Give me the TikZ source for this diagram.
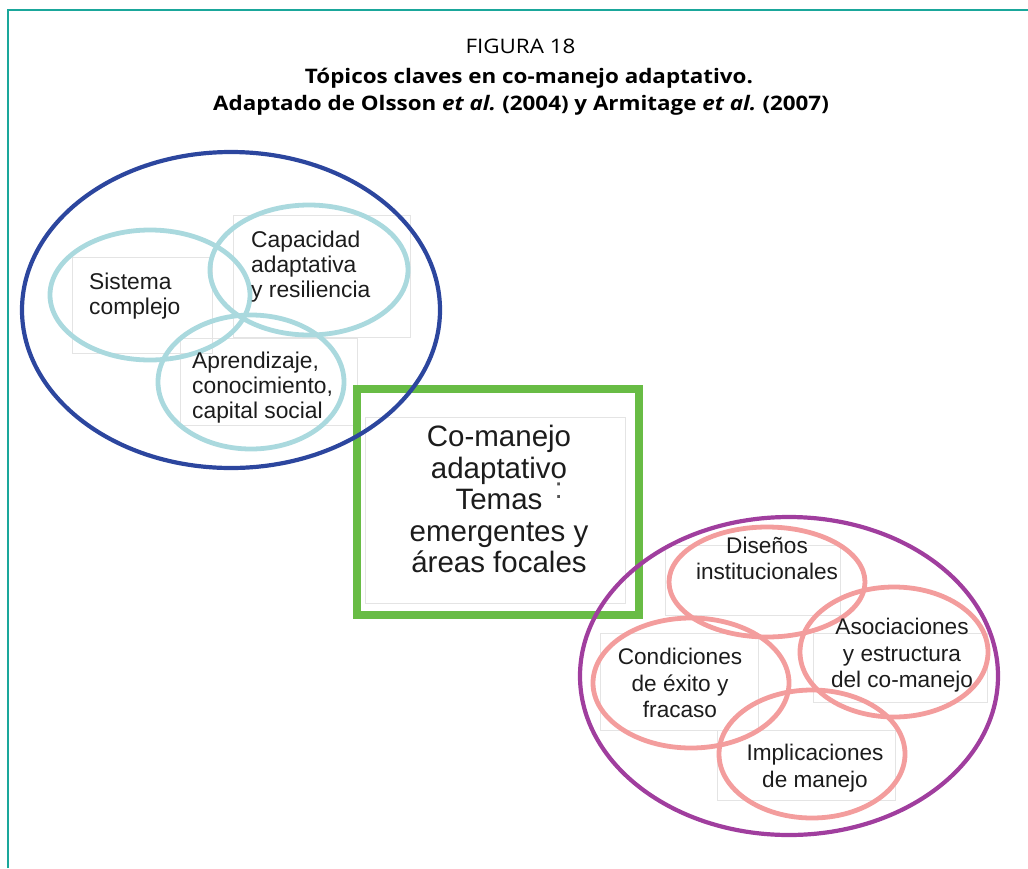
\documentclass[tikz,border=0pt]{standalone}
\usepackage{fontspec}
\setmainfont{Liberation Sans}
\newfontfamily\titlefont[FakeStretch=1.12]{Open Sans}

\definecolor{frameteal}{HTML}{1AA79B}
\definecolor{ringblue}{HTML}{2C469E}
\definecolor{ringpurple}{HTML}{A03E9E}
\definecolor{paleteal}{HTML}{AAD9DE}
\definecolor{salmon}{HTML}{F39D9D}
\definecolor{boxgreen}{HTML}{68BC45}
\definecolor{ghost}{HTML}{E4E4E4}
\definecolor{ink}{HTML}{1C1C1C}

\begin{document}
\begin{tikzpicture}[x=1pt,y=-1pt,
  outerring/.style={line width=4.2pt},
  topicring/.style={line width=4.8pt},
  ghostbox/.style={draw=ghost, line width=0.6pt},
  topic/.style={font=\fontsize{22.6}{26.5}\selectfont, text=ink, inner sep=0pt},
  leftlbl/.style={topic, align=left, anchor=west, font=\fontsize{22.8}{25}\selectfont},
  rightlbl/.style={topic, align=center, anchor=center},
  title/.style={inner sep=0pt, anchor=base, text=black}
]
\useasboundingbox (0,0) rectangle (1028,868);

% page frame (top and left rules)
\draw[frameteal, line width=1.6pt] (8,868) -- (8,10) -- (1028,10);

% heading
\node[title, font=\titlefont\fontsize{20}{24}\selectfont] (fig) at (520.5,53) {FIGURA 18};
\node[title, font=\titlefont\bfseries\fontsize{20}{24}\selectfont] (tit1) at (529,83)
  {Tópicos claves en co-manejo adaptativo.};
\node[title, font=\titlefont\bfseries\fontsize{20}{24}\selectfont] (tit2) at (521,110)
  {Adaptado de Olsson {\itshape et al.}\kern-1.5pt{} (2004) y Armitage {\itshape et al.}\kern-1.5pt{} (2007)};

% faint text frames behind the labels
\draw[ghostbox] (72,257) rectangle (212,353);
\draw[ghostbox] (233,215) rectangle (410,337);
\draw[ghostbox] (180,338) rectangle (357,425);
\draw[ghostbox] (365,417) rectangle (625,603);
\draw[ghostbox] (665,545) rectangle (840,615);
\draw[ghostbox] (813,633) rectangle (987,702);
\draw[ghostbox] (600,633) rectangle (758,730);
\draw[ghostbox] (717,730) rectangle (895,800);

% central box
\draw[boxgreen, line width=8pt] (357,389) rectangle (639,615);
\node[topic, align=center, font=\fontsize{29.5}{31.5}\selectfont] (core) at (499,499)
  {Co-manejo\\adaptativo\rlap{\hspace{-0.42em}\smash{\raisebox{-0.7em}{\color{ink!75}:}}}\\Temas\\emergentes y\\áreas focales};

% left cluster
\draw[ringblue, outerring] (231,310) ellipse [x radius=209pt, y radius=158pt];
\draw[paleteal, topicring] (150,295) ellipse [x radius=100pt, y radius=65pt];
\draw[paleteal, topicring] (309,270) ellipse [x radius=99pt, y radius=65pt];
\draw[paleteal, topicring] (251,382) ellipse [x radius=93pt, y radius=67pt];

\node[leftlbl] (sis) at (89,296) {Sistema\\complejo};
\node[leftlbl] (cap) at (251,267) {Capacidad\\adaptativa\\y resiliencia};
\node[leftlbl] (apr) at (192,388) {Aprendizaje,\\conocimiento,\\capital social};

% right cluster
\draw[ringpurple, outerring] (789,676) ellipse [x radius=209pt, y radius=159pt];
\draw[salmon, topicring] (767,582) ellipse [x radius=98pt, y radius=55pt];
\draw[salmon, topicring] (894,652) ellipse [x radius=94pt, y radius=65pt];
\draw[salmon, topicring] (691,683) ellipse [x radius=98pt, y radius=65pt];
\draw[salmon, topicring] (812,754) ellipse [x radius=93pt, y radius=64pt];

\node[rightlbl] (dis) at (767,558.5) {Diseños\\institucionales};
\node[rightlbl] (aso) at (902,655.5) {Asociaciones\\y estructura\\del co-manejo};
\node[rightlbl] (con) at (680,683) {Condiciones\\de éxito y\\fracaso};
\node[rightlbl] (imp) at (815,768) {Implicaciones\\de manejo};
\end{tikzpicture}
\end{document}
